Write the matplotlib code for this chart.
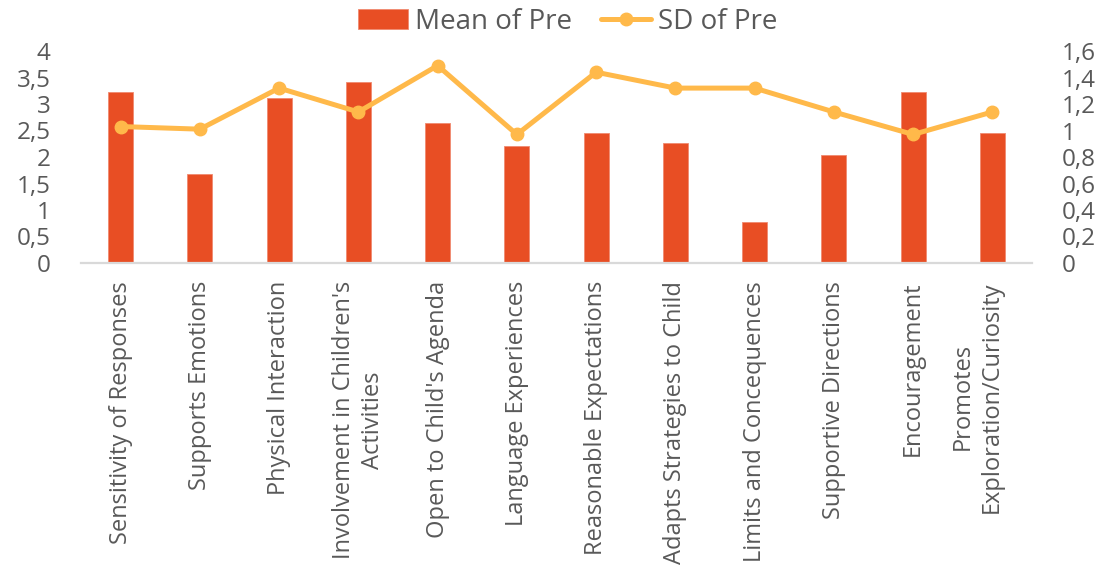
import matplotlib
matplotlib.use("Agg")
import matplotlib.pyplot as plt
import matplotlib.transforms as mtransforms
from matplotlib.ticker import FixedLocator, FuncFormatter

categories = [
    "Sensitivity of Responses",
    "Supports Emotions",
    "Physical Interaction",
    "Involvement in Children's\nActivities",
    "Open to Child's Agenda",
    "Language Experiences",
    "Reasonable Expectations",
    "Adapts Strategies to Child",
    "Limits and Concequences",
    "Supportive Directions",
    "Encouragement",
    "Promotes\nExploration/Curiosity",
]
mean_pre = [3.23, 1.68, 3.11, 3.42, 2.64, 2.21, 2.45, 2.27, 0.78, 2.03, 3.23, 2.45]
sd_pre = [1.03, 1.01, 1.32, 1.14, 1.49, 0.97, 1.44, 1.32, 1.32, 1.14, 0.97, 1.14]
left_ticks = [0, 0.5, 1, 1.5, 2, 2.5, 3, 3.5, 4]
right_ticks = [0, 0.2, 0.4, 0.6, 0.8, 1.0, 1.2, 1.4, 1.6]

BAR = "#E84E24"
LINE = "#FFB94A"
TXT = "#595959"
FONT = "Open Sans"
plt.rcParams["font.family"] = [FONT, "DejaVu Sans"]

fig = plt.figure(figsize=(11.02, 5.66), dpi=100)
ax = fig.add_axes([81 / 1102, 1 - 263 / 566, 951 / 1102, 212 / 566])
x = list(range(len(categories)))
bars = ax.bar(x, mean_pre, width=0.315, color=BAR, edgecolor="#F08A70", linewidth=0.6,
              label="Mean of Pre", zorder=2)
ax.set_xlim(-0.5, len(categories) - 0.5)
ax.set_ylim(0, 4)

def comma(v, pos):
    s = ("%g" % v).replace(".", ",")
    return s

ax.yaxis.set_major_locator(FixedLocator(left_ticks))
ax.yaxis.set_major_formatter(FuncFormatter(comma))
ax.tick_params(axis="y", length=0, labelsize=17.5, labelcolor=TXT, pad=22)
ax.set_xticks(x)
ax.set_xticklabels(categories, rotation=90, fontsize=17, color=TXT,
                   multialignment="center", va="top", linespacing=1.25)
ax.tick_params(axis="x", length=0, pad=13)
# last label sits slightly left of its category in the reference
lab = ax.get_xticklabels()[-1]
lab.set_transform(lab.get_transform() + mtransforms.ScaledTranslation(-15 / 100, 0, fig.dpi_scale_trans))
for s in ["top", "right", "left"]:
    ax.spines[s].set_visible(False)
ax.spines["bottom"].set_color("#D9D9D9")
ax.spines["bottom"].set_linewidth(1.6)

ax2 = ax.twinx()
line, = ax2.plot(x, sd_pre, color=LINE, linewidth=3.6, marker="o", markersize=9,
                 label="SD of Pre", zorder=3, solid_capstyle="round")
ax2.set_ylim(0, 1.6)
ax2.yaxis.set_major_locator(FixedLocator(right_ticks))
ax2.yaxis.set_major_formatter(FuncFormatter(comma))
ax2.tick_params(axis="y", length=0, labelsize=17.5, labelcolor=TXT, pad=21.5)
for s in ["top", "right", "left", "bottom"]:
    ax2.spines[s].set_visible(False)

fig.legend([bars, line], ["Mean of Pre", "SD of Pre"], loc="center",
           bbox_to_anchor=(568 / 1102, 1 - 22 / 566), ncol=2, frameon=False,
           fontsize=20, labelcolor=TXT, handlelength=1.8, handleheight=0.75,
           columnspacing=1.05, handletextpad=0.25)

fig.savefig("out.png", dpi=100)
